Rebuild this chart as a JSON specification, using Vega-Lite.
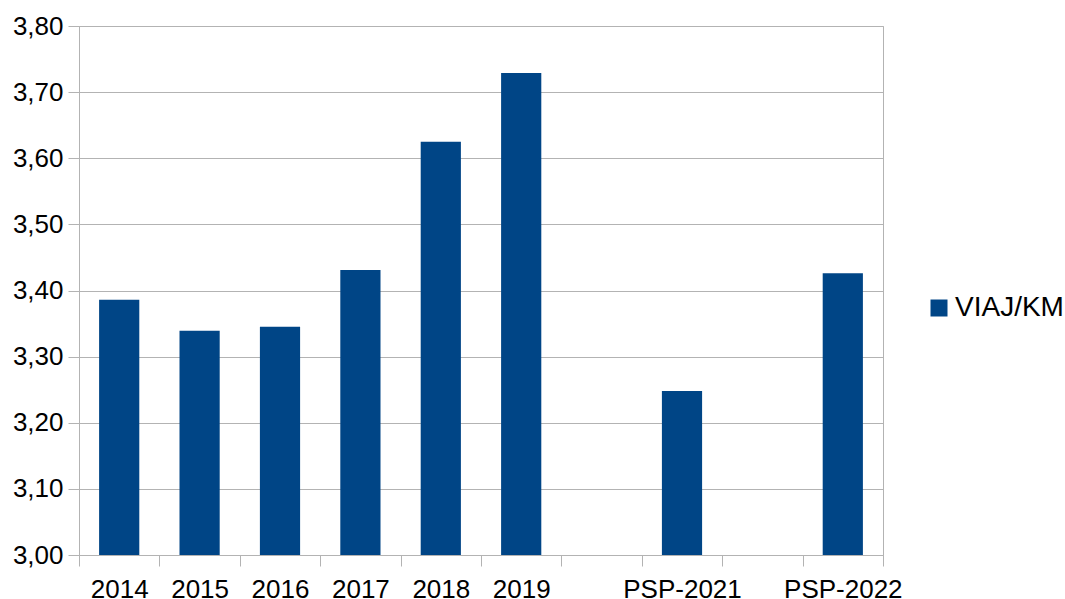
{
  "$schema": "https://vega.github.io/schema/vega-lite/v6.json",
  "autosize": "none",
  "width": 804,
  "height": 529,
  "padding": {"left": 79, "top": 26, "right": 182, "bottom": 44},
  "background": "white",
  "data": {
    "values": [
      {"cat": "2014", "value": 3.386, "series": "VIAJ/KM"},
      {"cat": "2015", "value": 3.339, "series": "VIAJ/KM"},
      {"cat": "2016", "value": 3.345, "series": "VIAJ/KM"},
      {"cat": "2017", "value": 3.431, "series": "VIAJ/KM"},
      {"cat": "2018", "value": 3.625, "series": "VIAJ/KM"},
      {"cat": "2019", "value": 3.729, "series": "VIAJ/KM"},
      {"cat": "PSP-2021", "value": 3.248, "series": "VIAJ/KM"},
      {"cat": "PSP-2022", "value": 3.426, "series": "VIAJ/KM"}
    ]
  },
  "mark": {"type": "bar", "width": {"band": 0.5}},
  "encoding": {
    "x": {
      "field": "cat",
      "type": "nominal",
      "scale": {
        "domain": ["2014", "2015", "2016", "2017", "2018", "2019", " ", "PSP-2021", "  ", "PSP-2022"],
        "paddingInner": 0,
        "paddingOuter": 0
      },
      "axis": {
        "title": null,
        "labelAngle": 0,
        "tickBand": "extent",
        "labelFont": "Liberation Sans",
        "labelFontSize": 26,
        "labelColor": "#000000",
        "labelPadding": 10,
        "tickSize": 11,
        "tickColor": "#b3b3b3",
        "domainColor": "#b3b3b3",
        "grid": false
      }
    },
    "y": {
      "field": "value",
      "type": "quantitative",
      "scale": {"domain": [3.0, 3.8], "zero": false, "nice": false},
      "axis": {
        "title": null,
        "values": [3.0, 3.1, 3.2, 3.3, 3.4, 3.5, 3.6, 3.7, 3.8],
        "labelExpr": "replace(format(datum.value, '.2f'), '.', ',')",
        "labelFont": "Liberation Sans",
        "labelFontSize": 26,
        "labelColor": "#000000",
        "labelPadding": 5,
        "tickSize": 11,
        "tickColor": "#b3b3b3",
        "domainColor": "#b3b3b3",
        "gridColor": "#b3b3b3",
        "grid": true
      }
    },
    "y2": {"datum": 3.0},
    "color": {
      "field": "series",
      "type": "nominal",
      "scale": {"range": ["#004586"]},
      "legend": {
        "title": null,
        "orient": "none",
        "legendX": 846,
        "legendY": 268,
        "symbolType": "square",
        "symbolSize": 289,
        "labelOffset": 2,
        "labelFont": "Liberation Sans",
        "labelFontSize": 28,
        "labelColor": "#000000"
      }
    }
  },
  "config": {
    "view": {"stroke": "#b3b3b3"}
  }
}
